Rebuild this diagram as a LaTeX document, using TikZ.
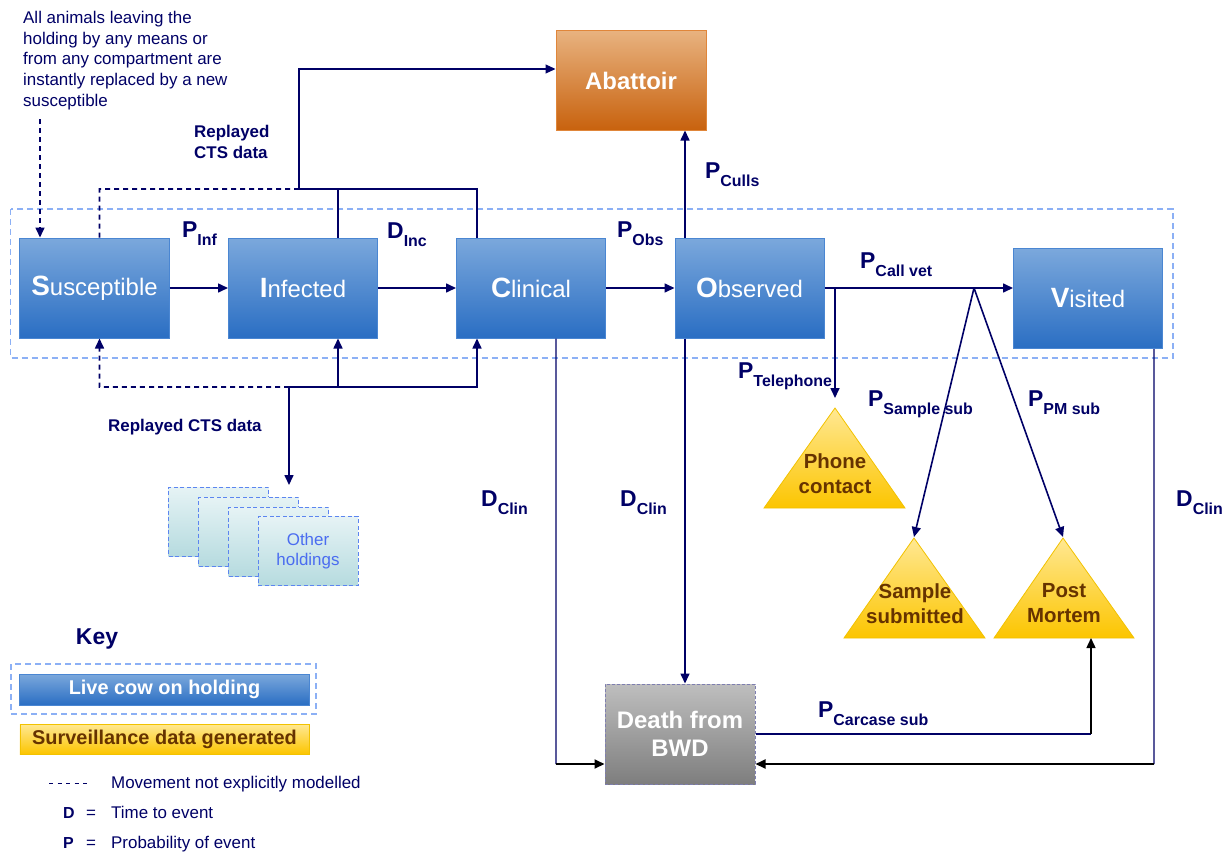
\documentclass[tikz,border=0pt]{standalone}
\usepackage{fontspec}
\setmainfont{Liberation Sans}
\usetikzlibrary{arrows.meta}
\definecolor{navy}{HTML}{000066}
\definecolor{boxtop}{HTML}{7BA8DC}
\definecolor{boxbot}{HTML}{2A6EC3}
\definecolor{boxedge}{HTML}{4A86D2}
\definecolor{abtop}{HTML}{E8B27F}
\definecolor{abbot}{HTML}{C8620E}
\definecolor{abedge}{HTML}{E0863A}
\definecolor{tritop}{HTML}{FFE893}
\definecolor{tribot}{HTML}{FCC500}
\definecolor{triedge}{HTML}{F2C200}
\definecolor{brn}{HTML}{663300}
\definecolor{dtop}{HTML}{BEBEBE}
\definecolor{dbot}{HTML}{7E7E7E}
\definecolor{dedge}{HTML}{7E7EB0}
\definecolor{ohtop}{HTML}{E6F3F5}
\definecolor{ohbot}{HTML}{B6DBDF}
\definecolor{ohedge}{HTML}{5C85F0}
\definecolor{ohtext}{HTML}{4A6CF0}
\definecolor{contc}{HTML}{8CB0F5}
\newcommand\Ini[1]{{\fontsize{28}{28}\selectfont\bfseries #1}}
\newcommand\PLab[2]{{\fontsize{23}{23}\selectfont #1}\raisebox{-8bp}{\fontsize{16}{16}\selectfont #2}}
\begin{document}
\begin{tikzpicture}[x=1bp,y=-1bp,
  every node/.style={inner sep=0pt},
  bluebox/.style={draw=boxedge, line width=1bp, top color=boxtop, bottom color=boxbot,
    minimum width=149bp, minimum height=100bp, text=white, font=\fontsize{24}{24}\selectfont},
  abbox/.style={draw=abedge, line width=1bp, top color=abtop, bottom color=abbot,
    minimum width=150bp, minimum height=99bp, text=white, font=\bfseries\fontsize{24}{24}\selectfont},
  deathbox/.style={draw=dedge, line width=1bp, dash pattern=on 3bp off 2bp, top color=dtop, bottom color=dbot,
    minimum width=150bp, minimum height=100bp, text=white, align=center, font=\bfseries\fontsize{24}{28}\selectfont},
  ohbox/.style={draw=ohedge, line width=1bp, dash pattern=on 4bp off 2.5bp, top color=ohtop, bottom color=ohbot,
    minimum width=100bp, minimum height=69bp},
  contdash/.style={draw=contc, line width=1.2bp, dash pattern=on 6bp off 4bp},
  conn/.style={draw=navy, line width=1.6bp},
  thinconn/.style={draw=navy, line width=1.2bp},
  blk/.style={draw=black, line width=1.8bp},
  movedash/.style={dash pattern=on 5bp off 4bp},
  tip/.style={-{Triangle[length=10bp,width=9bp]}},
  blacktip/.style={-{Triangle[length=10bp,width=9bp,black]}},
  lab/.style={anchor=base west, text=navy, font=\bfseries},
  tri/.style={draw=triedge, line width=0.8bp, top color=tritop, bottom color=tribot},
  tritext/.style={align=center, text=brn, font=\bfseries\fontsize{20.5}{25}\selectfont},
  plain/.style={anchor=base west, text=navy, font=\fontsize{17}{21}\selectfont}
]
\useasboundingbox (0,0) rectangle (1224,853);

% container of the holding
\draw[contdash] (10.5,209) rectangle (1173,358);

% triangles (surveillance data)
\path[tri] (835,408) -- (905,508) -- (764,508) -- cycle;
\path[tri] (914,538) -- (985,638) -- (844,638) -- cycle;
\path[tri] (1063,538) -- (1134,638) -- (994,638) -- cycle;
\coordinate (phA) at (835,408);
\coordinate (sbA) at (914,537);
\coordinate (pmA) at (1063,537);
\coordinate (pmB) at (1091,638);
\node[tritext] (phone) at (835,474) {Phone\\contact};
\node[tritext] (sample) at (915,604) {Sample\\submitted};
\node[tritext] (pm) at (1064,603.5) {Post\\Mortem};

% compartments
\node[bluebox] (S) at (94.5,288) {\Ini{S}usceptible};
\node[bluebox] (I) at (303,288) {\Ini{I}nfected};
\node[bluebox] (C) at (531,288) {\Ini{C}linical};
\node[bluebox] (O) at (749.5,288) {\Ini{O}bserved};
\node[bluebox] (V) at (1088,298.5) {\Ini{V}isited};
\node[abbox] (A) at (631,80.5) {Abattoir};
\node[deathbox] (D) at (680,734) {Death from\\BWD};

% other holdings
\node[ohbox] (oh1) at (218.5,521.5) {};
\node[ohbox] (oh2) at (248.5,531.5) {};
\node[ohbox] (oh3) at (278.5,541.5) {};
\node[ohbox, text=ohtext, align=center, font=\fontsize{17}{20}\selectfont] (oh4) at (308,551) {Other\\holdings};

% main chain
\draw[conn,tip] (S) -- (I);
\draw[conn,tip] (I) -- (C);
\draw[conn,tip] (C) -- (O);
\draw[conn,tip] (O.east) -- (O.east -| V.west);

% top: movements to abattoir
\coordinate (tS) at (99.5,189);
\coordinate (tA) at (299,189);
\coordinate (tI) at (338,189);
\coordinate (tC) at (477,189);
\draw[conn,movedash] ([xshift=5bp]S.north) -- (tS) -- (tA);
\draw[thinconn] (tA) -- (tC) -- (tC |- C.north);
\draw[thinconn] (tI) -- (tI |- I.north);
\draw[thinconn,tip] (tA) |- ([yshift=11.5bp]A.west);

% replacement note arrow
\coordinate (note) at (40,119);
\draw[conn,movedash,tip] (note) -- (note |- S.north);

% bottom: movements from other holdings
\coordinate (bS) at (99.5,387);
\coordinate (bO) at (289,387);
\coordinate (bI) at (338,387);
\coordinate (bC) at (477,387);
\coordinate (ohIn) at (289,485);
\draw[conn,movedash,tip] (bO) -- (bS) -- ([xshift=5bp]S.south);
\draw[conn,tip] (bO) -- (bC) -- (bC |- C.south);
\draw[conn,tip] (bI) -- (bI |- I.south);
\draw[conn,tip] (bO) -- (ohIn);

% observed to abattoir and death
\draw[conn,tip] ([xshift=-64.5bp]O.north) -- ([xshift=-64.5bp]O.north |- A.south);
\draw[conn,tip] ([xshift=-64.5bp]O.south) -- ([xshift=-64.5bp]O.south |- D.north);

% vet branches
\coordinate (ph) at (835,288);
\coordinate (sp) at (974,288);
\draw[conn,tip] (ph) -- ([yshift=10bp]phA);
\draw[conn,tip] (sp) -- (sbA);
\draw[conn,tip] (sp) -- (pmA);

% deaths
\coordinate (cl) at (556,764);
\coordinate (vr) at (1154,764);
\coordinate (cc) at (1091,734);
\draw[thinconn] ([xshift=25bp]C.south) -- (cl);
\draw[blk,blacktip] (cl) -- (cl -| D.west);
\draw[thinconn] ([xshift=66bp]V.south) -- (vr);
\draw[blk,blacktip] (vr) -- (vr -| D.east);
\draw[thinconn] (D.east) -- (cc);
\draw[draw=black, line width=1.4bp, blacktip] (cc) -- (pmB);

% labels
\node[lab] (lInf) at (182,237) {\PLab{P}{Inf}};
\node[lab] (lInc) at (387,238) {\PLab{D}{Inc}};
\node[lab] (lObs) at (617,237) {\PLab{P}{Obs}};
\node[lab] (lCull) at (705,178) {\PLab{P}{Culls}};
\node[lab] (lCall) at (860,268) {\PLab{P}{Call vet}};
\node[lab] (lTel) at (738,378) {\PLab{P}{Telephone}};
\node[lab] (lSam) at (868,406) {\PLab{P}{Sample sub}};
\node[lab] (lPM) at (1028,406) {\PLab{P}{PM sub}};
\node[lab] (lC1) at (481,506) {\PLab{D}{Clin}};
\node[lab] (lC2) at (620,506) {\PLab{D}{Clin}};
\node[lab] (lC3) at (1176,506) {\PLab{D}{Clin}};
\node[lab] (lCar) at (818,717) {\PLab{P}{Carcase sub}};

% texts
\node[anchor=north west, align=left, text=navy, font=\fontsize{17}{20.8}\selectfont] (ntxt) at (23,11)
  {All animals leaving the\\holding by any means or\\from any compartment are\\instantly replaced by a new\\susceptible};
\node[anchor=north west, align=left, text=navy, font=\bfseries\fontsize{17}{21}\selectfont] (cts1) at (194,125)
  {Replayed\\CTS data};
\node[lab, font=\bfseries\fontsize{17}{21}\selectfont] (cts2) at (108,431) {Replayed CTS data};

% key
\node[text=navy, font=\bfseries\fontsize{23}{23}\selectfont] (key) at (97,639) {Key};
\draw[contdash] (11,664) rectangle (316,714);
\node[bluebox, minimum width=289bp, minimum height=31bp, font=\bfseries\fontsize{20}{20}\selectfont] (k1) at (164.5,689.5) {Live cow on holding};
\node[draw=triedge, line width=0.8bp, top color=tritop, bottom color=tribot, minimum width=289bp, minimum height=30bp,
  text=brn, font=\bfseries\fontsize{20}{20}\selectfont] (k2) at (164.5,739) {Surveillance data generated};
\draw[navy, line width=1bp, dash pattern=on 4bp off 4.5bp] (49,783) -- (91,783);
\node[plain] (km) at (111,788) {Movement not explicitly modelled};
\node[plain, font=\bfseries\fontsize{16}{20}\selectfont] (kd) at (63,818) {D};
\node[plain] (kde) at (86,818) {=};
\node[plain] (kdt) at (111,818) {Time to event};
\node[plain, font=\bfseries\fontsize{16}{20}\selectfont] (kp) at (63,848) {P};
\node[plain] (kpe) at (86,848) {=};
\node[plain] (kpt) at (111,848) {Probability of event};
\end{tikzpicture}
\end{document}
